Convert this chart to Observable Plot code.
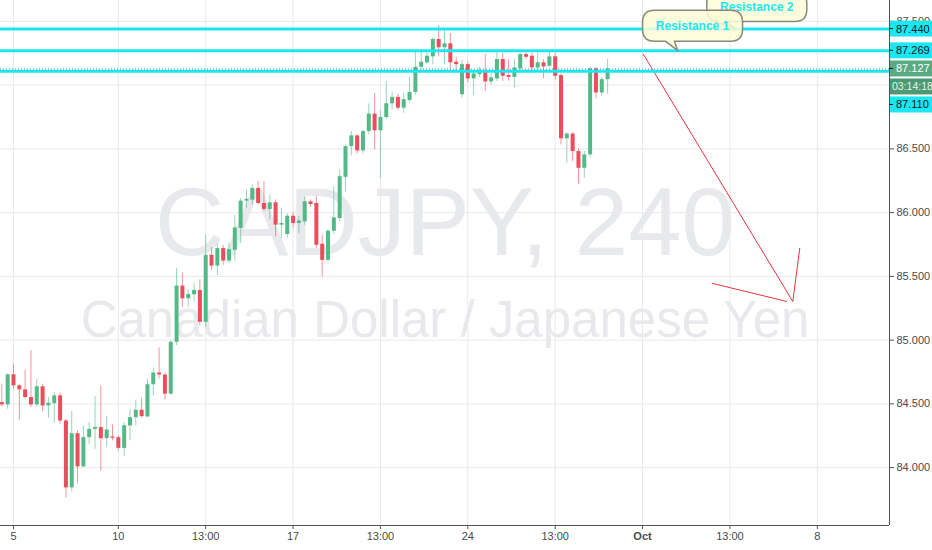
<!DOCTYPE html>
<html><head><meta charset="utf-8">
<script src="https://cdn.jsdelivr.net/npm/d3@7"></script>
<script src="https://cdn.jsdelivr.net/npm/@observablehq/plot@0.6"></script>
<style>body{margin:0;background:#fff;} svg{display:block}</style>
</head><body><div id="chart"></div>
<script>
// 4h candles of CADJPY; index 0 = first candle of Sep 5
const firstIndex = -2;
const opens = [84.510,84.492,84.728,84.642,84.610,84.550,84.492,84.634,84.484,84.502,84.563,84.366,83.841,84.266,84.006,84.235,84.300,84.314,84.227,84.240,84.235,84.151,84.327,84.392,84.450,84.398,84.650,84.742,84.726,84.576,84.983,85.424,85.324,85.356,85.390,85.140,85.665,85.581,85.718,85.620,85.705,85.876,86.090,86.098,86.190,86.072,86.025,86.077,85.902,85.828,85.972,85.915,85.928,86.085,86.072,85.752,85.626,85.854,85.954,86.277,86.518,86.602,86.484,86.636,86.773,86.642,86.746,86.854,86.904,86.820,86.880,86.943,87.140,87.175,87.222,87.358,87.293,87.324,87.180,86.925,87.161,87.049,87.083,87.114,87.025,87.049,87.201,87.075,87.061,87.128,87.240,87.227,87.135,87.175,87.148,87.222,87.075,86.579,86.616,86.479,86.348,86.453,87.128,86.939,87.043];
const highs = [84.655,84.735,84.812,84.650,84.765,84.917,84.694,84.655,84.550,84.590,84.584,84.380,84.440,84.290,84.327,84.353,84.558,84.640,84.400,84.335,84.245,84.353,84.458,84.529,84.545,84.695,84.781,84.940,84.742,84.995,85.561,85.526,85.395,85.443,85.474,85.823,85.726,85.757,85.744,85.760,85.980,86.112,86.177,86.217,86.243,86.243,86.138,86.100,86.033,85.990,86.000,85.970,86.124,86.100,86.130,85.823,85.870,86.203,86.335,86.530,86.636,86.610,86.650,86.854,86.933,86.800,87.030,86.943,86.930,86.935,87.057,87.258,87.258,87.260,87.370,87.469,87.437,87.406,87.220,87.195,87.180,87.120,87.140,87.240,87.090,87.266,87.250,87.200,87.200,87.250,87.260,87.250,87.250,87.200,87.270,87.250,87.090,86.630,86.630,86.500,86.480,87.140,87.140,87.060,87.201];
const lows = [84.479,84.458,84.615,84.371,84.537,84.471,84.471,84.440,84.387,84.345,84.340,83.762,83.810,83.873,84.000,84.182,84.143,83.972,84.156,84.209,84.130,84.090,84.210,84.327,84.390,84.390,84.563,84.695,84.529,84.570,84.957,85.258,85.258,85.297,85.114,85.100,85.547,85.508,85.587,85.600,85.620,85.757,86.033,86.059,86.060,86.010,85.941,85.810,85.797,85.800,85.880,85.836,85.900,86.040,85.720,85.494,85.605,85.830,85.930,86.164,86.445,86.460,86.460,86.610,86.492,86.269,86.730,86.807,86.800,86.780,86.860,86.920,87.120,87.160,87.160,87.222,87.161,87.096,87.090,86.900,87.017,86.917,87.060,86.951,87.000,87.030,87.030,87.030,86.978,87.100,87.200,87.110,87.110,87.049,87.140,87.040,86.531,86.387,86.400,86.224,86.269,86.430,86.891,86.910,86.930];
const closes = [84.492,84.728,84.642,84.610,84.550,84.492,84.634,84.484,84.505,84.563,84.366,83.841,84.266,84.006,84.235,84.300,84.314,84.227,84.295,84.230,84.151,84.329,84.392,84.450,84.400,84.650,84.742,84.727,84.576,84.983,85.424,85.324,85.358,85.390,85.140,85.665,85.581,85.718,85.620,85.710,85.880,86.090,86.104,86.190,86.072,86.025,86.077,85.902,85.915,85.972,85.915,85.935,86.085,86.064,85.744,85.626,85.854,85.959,86.282,86.518,86.602,86.484,86.636,86.773,86.642,86.746,86.854,86.904,86.820,86.886,86.943,87.140,87.180,87.227,87.358,87.293,87.324,87.175,87.161,87.161,87.049,87.088,87.117,87.025,87.057,87.201,87.070,87.061,87.135,87.240,87.219,87.135,87.175,87.143,87.222,87.070,86.579,86.616,86.479,86.348,86.453,87.128,86.939,87.043,87.127];

const xTickIndex = [0,18,33,48,63,78,93,108,123,138];
const xTickLabels = ["5","10","13:00","17","13:00","24","13:00","Oct","13:00","8"];
const yGridTicks = [84,84.5,85,85.5,86,86.5,87,87.5];
const yLabelTicks = [84,84.5,85,85.5,86,86.5,87.5]; // 87.000 is hidden behind the countdown box
const levels = [87.440, 87.269, 87.110];
const levelLabels = ["87.440","87.269","87.110"];
const lastPrice = 87.127;
const lastPriceLabel = "87.127";
const countdown = "03:14:18";
const title = "CADJPY, 240";
const subtitle = "Canadian Dollar / Japanese Yen";
const bubbleTexts = ["Resistance 2","Resistance 1"];
const bubbleIndex = [124.1, 114.1];
const bubblePrice = [87.440, 87.269];
// red hand-drawn arrow (candle index, price)
const arrowFromIndex = [108.1, 119.9, 133.8];
const arrowFromPrice = [87.245, 85.446, 85.303];
const arrowToIndex = [133.8, 132.8, 135.0];
const arrowToPrice = [85.303, 85.303, 85.724];

const xDomain = [-2.23, 150.4];
const yDomain = [83.546, 87.664];

const GREEN = "#53b987", RED = "#eb4d5c", CYAN = "#1ce6f2";
const candles = opens.map((o, k) => ({i: firstIndex + k, open: o, high: highs[k], low: lows[k], close: closes[k]}));
const colorOf = d => d.close >= d.open ? GREEN : RED;
const labelMap = new Map(xTickIndex.map((d, k) => [d, xTickLabels[k]]));
const arrows = arrowFromIndex.map((d, k) => ({x1: d, y1: arrowFromPrice[k], x2: arrowToIndex[k], y2: arrowToPrice[k]}));

const plot = Plot.plot({
  width: 932, height: 550,
  marginLeft: 0, marginRight: 43, marginTop: 0, marginBottom: 25,
  style: {fontFamily: "'Liberation Sans', Arial, sans-serif", fontSize: "11px", background: "#fff", overflow: "hidden"},
  x: {type: "linear", domain: xDomain},
  y: {type: "linear", domain: yDomain},
  marks: [
    Plot.gridY(yGridTicks, {stroke: "#e9e9ec", strokeOpacity: 1}),
    Plot.gridX(xTickIndex, {stroke: "#e9e9ec", strokeOpacity: 1}),
    Plot.text([title], {frameAnchor: "middle", text: d => d, lineAnchor: "bottom", dy: -8, fontSize: 96, fill: "#e8e9ec"}),
    Plot.text([subtitle], {frameAnchor: "middle", text: d => d, lineAnchor: "bottom", dy: 74, fontSize: 51, fill: "#e8e9ec"}),
    Plot.link(arrows, {x1: "x1", y1: "y1", x2: "x2", y2: "y2", stroke: "#e8333f", strokeWidth: 1}),
    Plot.ruleX(candles, {x: "i", y1: "low", y2: "high", stroke: colorOf, strokeOpacity: 0.6}),
    Plot.ruleX(candles, {x: "i", y1: "open", y2: "close", stroke: colorOf, strokeWidth: 4}),
    Plot.ruleY(levels, {stroke: CYAN, strokeWidth: 3}),
    Plot.ruleY([lastPrice], {stroke: "#3aa88a", strokeWidth: 1, strokeDasharray: "1,2"}),
    Plot.ruleX([xDomain[1]], {stroke: "#50535e", strokeWidth: 1}),
    Plot.ruleY([yDomain[0]], {stroke: "#50535e", strokeWidth: 1}),
    Plot.axisX(xTickIndex, {tickFormat: d => labelMap.get(d), tickSize: 4, tickPadding: 3, fontSize: 11, fill: "#4a4a4a", stroke: "#50535e", label: null}),
    Plot.axisY(yLabelTicks, {anchor: "right", tickFormat: d3.format(".3f"), tickSize: 4, tickPadding: 3, fontSize: 11, fill: "#4a4a4a", stroke: "#50535e", label: null})
  ]
});

document.getElementById("chart").appendChild(plot);

const svg = d3.select(plot);
svg.selectAll("text").filter(function(){ return this.textContent === "Oct"; }).attr("font-weight", "bold");
const sx = plot.scale("x"), sy = plot.scale("y");

// speech bubbles
function bubblePath(x0, y0, x1, y1, r, bx1, bx2, tx, ty) {
  return `M${x0+r},${y0}H${x1-r}Q${x1},${y0} ${x1},${y0+r}V${y1-r}Q${x1},${y1} ${x1-r},${y1}` +
    `H${bx2}L${tx},${ty}L${bx1},${y1}H${x0+r}Q${x0},${y1} ${x0},${y1-r}V${y0+r}Q${x0},${y0} ${x0+r},${y0}Z`;
}
const gB = svg.append("g");
const bubbleGeom = [
  {l: -29, r: 71, t: -37, b: -7, b1: -22, b2: -10},
  {l: -35, r: 65, t: -40, b: -9, b1: -12, b2: -3}
];
bubbleTexts.forEach((t, k) => {
  const tx = sx.apply(bubbleIndex[k]), ty = sy.apply(bubblePrice[k]);
  const g = bubbleGeom[k];
  gB.append("path")
    .attr("d", bubblePath(tx + g.l, ty + g.t, tx + g.r, ty + g.b, 12, tx + g.b1, tx + g.b2, tx, ty))
    .attr("fill", "#fdfcd6").attr("fill-opacity", 0.85)
    .attr("stroke", "#8a8a7c").attr("stroke-width", 1.5);
  gB.append("text")
    .attr("x", tx + (g.l + g.r) / 2).attr("y", ty + (g.t + g.b) / 2)
    .attr("text-anchor", "middle").attr("dominant-baseline", "central")
    .attr("font-size", 12).attr("font-weight", "bold").attr("fill", CYAN)
    .text(t);
});

// right-hand price labels
const gL = svg.append("g").attr("font-size", 11).attr("text-anchor", "start");
const xr = sx.apply(xDomain[1]);
function priceLabel(cy, txt, fill, color, tick = true) {
  gL.append("rect").attr("x", xr + 1).attr("y", cy - 8).attr("width", 932 - xr).attr("height", 16).attr("fill", fill);
  if (tick) gL.append("line").attr("x1", xr).attr("x2", xr + 4).attr("y1", cy).attr("y2", cy).attr("stroke", "#131722");
  gL.append("text").attr("x", xr + (tick ? 7 : 3)).attr("y", cy).attr("text-anchor", "start")
    .attr("dominant-baseline", "central").attr("fill", color).attr("font-size", tick ? 11 : 10.5).text(txt);
}
const yLast = sy.apply(lastPrice);
priceLabel(sy.apply(levels[0]), levelLabels[0], CYAN, "#131722");
priceLabel(sy.apply(levels[1]), levelLabels[1], CYAN, "#131722");
priceLabel(yLast, lastPriceLabel, "#5aab84", "#ffffff");
priceLabel(yLast + 18, countdown, "#4c9a73", "#e8f5ec", false);
priceLabel(yLast + 36, levelLabels[2], CYAN, "#131722");
</script>
</body></html>
